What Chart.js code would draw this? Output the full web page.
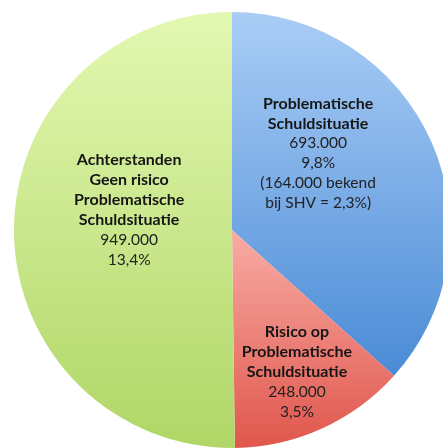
<!DOCTYPE html>
<html>
<head>
<meta charset="utf-8">
<script src="https://cdn.jsdelivr.net/npm/chart.js@4.4.1/dist/chart.umd.min.js"></script>
<style>
  html, body { margin: 0; padding: 0; background: #ffffff; overflow: hidden; width: 443px; height: 448px; }
  #wrap { position: absolute; left: 2px; top: 0px; width: 460px; height: 460px; }
</style>
</head>
<body>
<div id="wrap"><canvas id="c" width="460" height="460"></canvas></div>
<script>
// Data
const categories = [
  ["Problematische", "Schuldsituatie"],
  ["Risico op", "Problematische", "Schuldsituatie"],
  ["Achterstanden", "Geen risico", "Problematische", "Schuldsituatie"]
];
const values = [693000, 248000, 949000];
const valueLabels = ["693.000", "248.000", "949.000"];
const percentLabels = ["9,8%", "3,5%", "13,4%"];
const noteLabels = [["(164.000 bekend", "bij SHV = 2,3%)"], [], []];

// Styling (gradient top/bottom colours per slice)
const gradTop = ["#aacdf6", "#f8aca5", "#e3f8b2"];
const gradBottom = ["#4a8bd6", "#e0564c", "#b0d666"];
// label placement: [dx, dy] from pie centre as fraction of radius
const labelPos = [[0.395, -0.352], [0.298, 0.650], [-0.472, -0.092]];

function sliceGradient(context) {
  const chart = context.chart;
  const area = chart.chartArea;
  if (!area) return gradTop[context.dataIndex];
  const i = context.dataIndex;
  const cx = (area.left + area.right) / 2, cy = (area.top + area.bottom) / 2;
  const r = Math.min(area.right - area.left, area.bottom - area.top) / 2;
  const total = values.reduce((a, b) => a + b, 0);
  let start = 0;
  for (let k = 0; k < i; k++) start += values[k] / total * Math.PI * 2;
  const end = start + values[i] / total * Math.PI * 2;
  let minY = cy, maxY = cy;
  for (let s = 0; s <= 60; s++) {
    const a = start + (end - start) * s / 60 - Math.PI / 2;
    const y = cy + r * Math.sin(a);
    minY = Math.min(minY, y); maxY = Math.max(maxY, y);
  }
  const g = chart.ctx.createLinearGradient(0, minY, 0, maxY);
  g.addColorStop(0, gradTop[i]);
  g.addColorStop(1, gradBottom[i]);
  return g;
}

const labelPlugin = {
  id: 'sliceLabels',
  afterDatasetsDraw(chart) {
    const ctx = chart.ctx;
    const meta = chart.getDatasetMeta(0);
    ctx.save();
    ctx.textAlign = 'center';
    ctx.textBaseline = 'middle';
    meta.data.forEach((arc, i) => {
      const p = arc.getProps(['x', 'y', 'outerRadius'], true);
      const x = p.x + labelPos[i][0] * p.outerRadius;
      let y = p.y + labelPos[i][1] * p.outerRadius;
      const lines = [];
      categories[i].forEach(t => lines.push([t, true]));
      lines.push([valueLabels[i], false]);
      lines.push([percentLabels[i], false]);
      noteLabels[i].forEach(t => lines.push([t, false]));
      const lh = 19.9;
      let yy = y - (lines.length - 1) * lh / 2;
      lines.forEach(([t, bold]) => {
        ctx.font = bold ? 'bold 16px Lato' : '15.5px Lato';
        ctx.fillStyle = bold ? '#161616' : '#222222';
        ctx.fillText(t, x, yy);
        yy += lh;
      });
    });
    ctx.restore();
  }
};

new Chart(document.getElementById('c'), {
  type: 'pie',
  data: {
    labels: categories.map(c => c.join(' ')),
    datasets: [{
      data: values,
      backgroundColor: sliceGradient,
      borderWidth: 0
    }]
  },
  options: {
    responsive: false,
    animation: false,
    layout: { padding: 12 },
    plugins: { legend: { display: false }, tooltip: { enabled: false } }
  },
  plugins: [labelPlugin]
});
</script>
</body>
</html>
